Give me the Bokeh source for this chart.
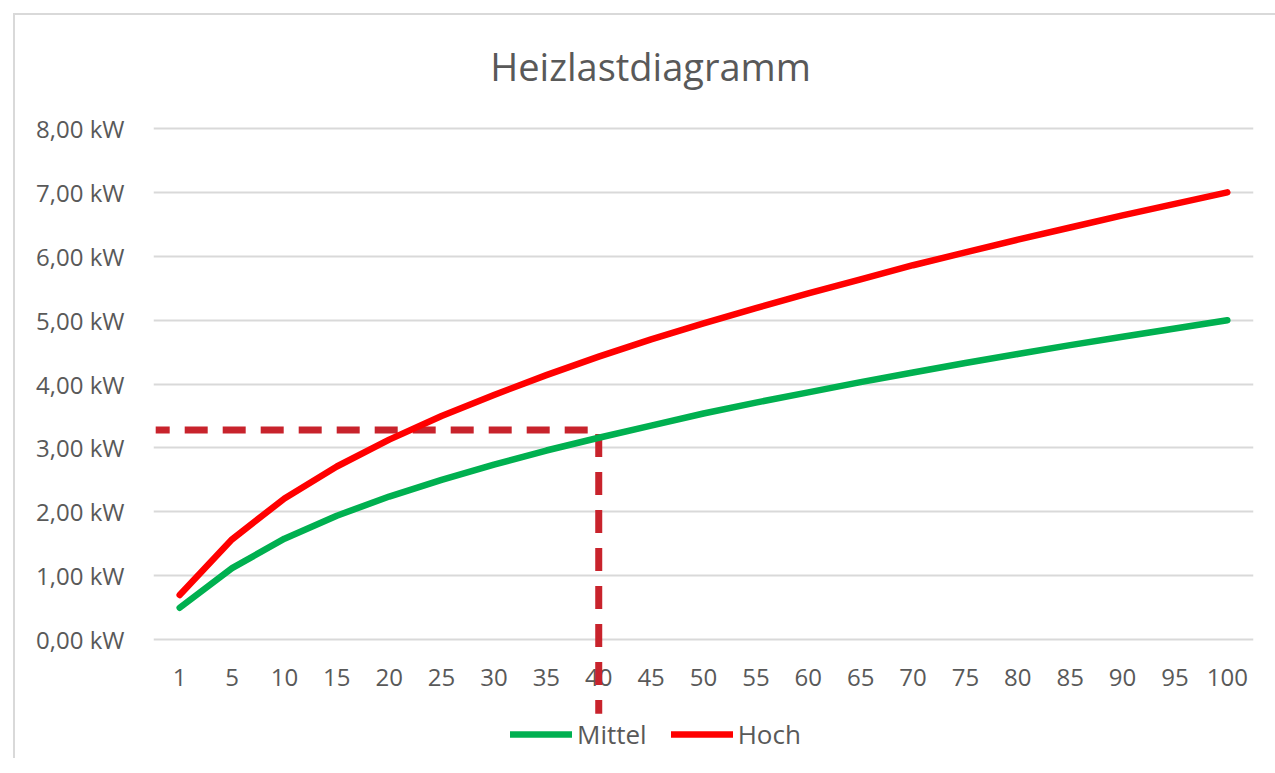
from bokeh.plotting import figure
from bokeh.models import Range1d, FixedTicker, Legend, LegendItem, ColumnDataSource, Label
from bokeh.core.properties import value
from bokeh.embed import file_html
from bokeh.resources import INLINE

# ---- data ----
categories = ["1", "5", "10", "15", "20", "25", "30", "35", "40", "45", "50",
              "55", "60", "65", "70", "75", "80", "85", "90", "95", "100"]
mittel = [0.50, 1.12, 1.58, 1.94, 2.24, 2.50, 2.74, 2.96, 3.16, 3.35, 3.54,
          3.71, 3.87, 4.03, 4.18, 4.33, 4.47, 4.61, 4.74, 4.87, 5.00]
hoch = [0.70, 1.57, 2.21, 2.71, 3.13, 3.50, 3.83, 4.14, 4.43, 4.70, 4.95,
        5.19, 5.42, 5.64, 5.86, 6.06, 6.26, 6.45, 6.64, 6.82, 7.00]
y_ticks = [0, 1, 2, 3, 4, 5, 6, 7, 8]
y_tick_labels = ["0,00 kW", "1,00 kW", "2,00 kW", "3,00 kW", "4,00 kW",
                 "5,00 kW", "6,00 kW", "7,00 kW", "8,00 kW"]
marker_category = "40"
marker_value = 3.28
title_text = "Heizlastdiagramm"

FONT = "Open Sans"
GREY = "#595959"

xi = list(range(len(categories)))
mi = categories.index(marker_category)

p = figure(width=1262, height=745, output_backend="svg", toolbar_location=None, title=None,
           x_range=Range1d(-0.5, len(categories) - 0.5),
           y_range=Range1d(-1.891, 9.768),
           min_border_left=138, min_border_right=24, min_border_top=0, min_border_bottom=0,
           styles={"margin-left": "15px", "margin-top": "15px",
                   "box-shadow": "-2px -2px 0 0 #D9D9D9"})

# chart title (in the empty band above the 8 kW gridline)
p.add_layout(Label(x=8.99, y=8.983, text=title_text,
                   text_align="center", text_baseline="alphabetic",
                   text_font=FONT, text_font_size="38px", text_color=GREY))

p.outline_line_color = None
p.background_fill_color = "white"
p.border_fill_color = "white"

p.xaxis.visible = False
p.xgrid.grid_line_color = None

p.yaxis.ticker = FixedTicker(ticks=y_ticks)
p.yaxis.major_label_overrides = {t: l for t, l in zip(y_ticks, y_tick_labels)}
p.yaxis.axis_line_color = None
p.yaxis.major_tick_line_color = None
p.yaxis.minor_tick_line_color = None
p.yaxis.major_label_text_font = FONT
p.yaxis.major_label_text_font_size = "24px"
p.yaxis.major_label_text_color = GREY
p.yaxis.major_label_standoff = 23
p.ygrid.ticker = FixedTicker(ticks=y_ticks)
p.ygrid.grid_line_color = "#D9D9D9"
p.ygrid.grid_line_width = 2

# category labels under the zero line
lab = ColumnDataSource(dict(x=xi, y=[-0.595] * len(xi), t=categories))
p.text(x="x", y="y", text="t", source=lab, text_align="center", text_baseline="middle",
       text_font=value(FONT), text_font_size="24px", text_color=GREY)

# dashed marker line
p.line(x=[-0.458, mi, mi], y=[marker_value, marker_value, -1.16],
       line_color="#C8232C", line_width=7, line_dash="23 15", line_join="miter",
       line_dash_offset=9)

r1 = p.line(x=xi, y=mittel, line_color="#00B050", line_width=6.5, line_cap="round", line_join="round")
r2 = p.line(x=xi, y=hoch, line_color="#FF0000", line_width=6.5, line_cap="round", line_join="round")

legend = Legend(items=[LegendItem(label="Mittel", renderers=[r1]),
                       LegendItem(label="Hoch", renderers=[r2])],
                orientation="horizontal", location=(357, 8),
                label_text_font=FONT, label_text_font_size="26px", label_text_color=GREY,
                glyph_width=62, glyph_height=24, label_standoff=5, spacing=24,
                padding=0, margin=0, border_line_color=None, background_fill_alpha=0)
p.add_layout(legend)

open("out.html", "w").write(file_html(p, INLINE))
